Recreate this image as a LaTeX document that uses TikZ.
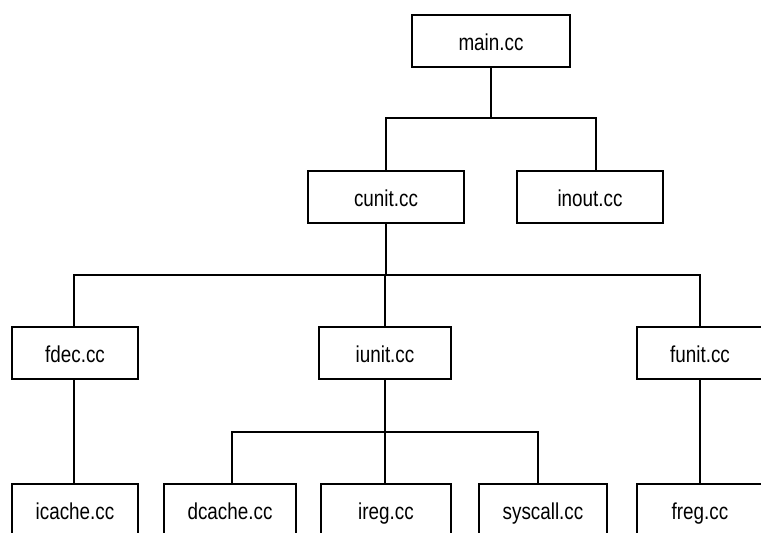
\documentclass[tikz,border=0pt]{standalone}
\usepackage{fontspec}
\setmainfont{Liberation Sans}[FakeStretch=0.82]
\begin{document}
\begin{tikzpicture}[x=1pt,y=-1pt,
  file/.style={draw, line width=1.5pt, rectangle, minimum height=52pt,
    inner sep=0pt, text height=19.5pt, text depth=0pt,
    font=\fontsize{23}{25}\selectfont},
  link/.style={line width=1.5pt}]
\useasboundingbox (0,0) rectangle (761,533);
\clip (0,0) rectangle (761,533);

% top level
\node[file, minimum width=158pt] (main) at (491,41) {main.cc};

% second level
\node[file, minimum width=156pt] (cunit) at (386,197) {cunit.cc};
\node[file, minimum width=146pt] (inout) at (590,197) {inout.cc};

% third level
\node[file, minimum width=126pt] (fdec)  at (75,353)  {fdec.cc};
\node[file, minimum width=132pt] (iunit) at (385,353) {iunit.cc};
\node[file, minimum width=126pt] (funit) at (700,353) {funit.cc};

% leaves
\node[file, minimum width=126pt] (icache)  at (75,510)  {icache.cc};
\node[file, minimum width=132pt] (dcache)  at (230,510) {dcache.cc};
\node[file, minimum width=130pt] (ireg)    at (386,510) {ireg.cc};
\node[file, minimum width=128pt] (syscall) at (543,510) {syscall.cc};
\node[file, minimum width=126pt] (freg)    at (700,510) {freg.cc};

% junctions of the tree branches
\coordinate (j1) at (491,118);
\coordinate (j2) at (386,275);
\coordinate (j3) at (385,432);

\draw[link] (main.south) -- (j1);
\draw[link] (cunit.north) |- (j1);
\draw[link] ([xshift=6pt]inout.north) |- (j1);

\draw[link] (cunit.south) -- (j2);
\draw[link] ([xshift=-1pt]fdec.north) |- (j2);
\draw[link] (iunit.north) |- (j2);
\draw[link] (funit.north) |- (j2);

\draw[link] (iunit.south) -- (j3);
\draw[link] ([xshift=2pt]dcache.north) |- (j3);
\draw[link] ([xshift=-1pt]ireg.north) |- (j3);
\draw[link] ([xshift=-5pt]syscall.north) |- (j3);

\draw[link] ([xshift=-1pt]fdec.south) -- ([xshift=-1pt]icache.north);
\draw[link] (funit.south) -- (freg.north);
\end{tikzpicture}
\end{document}
